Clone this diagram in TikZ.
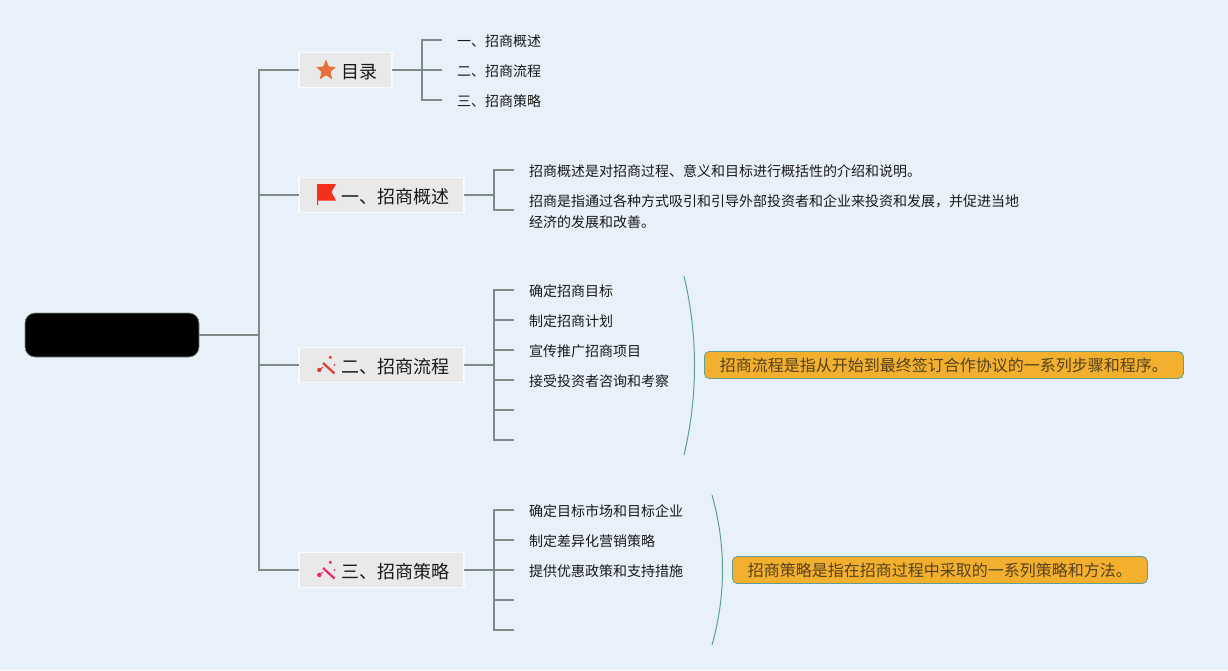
\documentclass[tikz,border=0pt]{standalone}
\usepackage{fontspec}
\setmainfont{Noto Sans CJK SC}
\usetikzlibrary{positioning}
\definecolor{paper}{RGB}{232,241,250}
\definecolor{branch}{RGB}{127,139,136}
\definecolor{chip}{RGB}{233,233,233}
\definecolor{ink}{RGB}{25,25,25}
\definecolor{sea}{RGB}{95,158,150}
\definecolor{gold}{RGB}{242,176,46}
\definecolor{umber}{RGB}{85,65,30}
\definecolor{orange}{RGB}{232,112,58}
\definecolor{scarlet}{RGB}{245,48,26}
\definecolor{brick}{RGB}{217,64,47}
\definecolor{rose}{RGB}{232,40,106}
\tikzset{
  x=1pt,y=-1pt,
  rootbox/.style={fill=black,draw=branch,line width=0.6pt,rounded corners=10pt,minimum width=174pt,minimum height=44pt,inner sep=0pt},
  chapter/.style={fill=chip,draw=white!70!paper,line width=1.2pt,outer sep=0pt,minimum height=35pt,inner xsep=15pt,inner ysep=0pt,text=ink,font=\fontsize{18}{18}\selectfont},
  leaf/.style={anchor=west,inner xsep=15pt,inner ysep=0pt,align=left,text=ink,font=\fontsize{14}{21}\selectfont},
  note/.style={anchor=west,fill=gold,draw=sea,line width=0.8pt,rounded corners=5pt,minimum height=27pt,inner xsep=15.5pt,inner ysep=0pt,text=umber,font=\fontsize{16}{16}\selectfont},
  link/.style={draw=branch,line width=2pt},
  brace/.style={draw=sea,line width=1pt},
  % pictograms
  pics/staricon/.style={code={
    \fill[#1,rounded corners=0.8pt] (0,-10.5) -- (2.8,-3.4) -- (10,-3) -- (4.5,1.8) -- (6.3,9.4) -- (0,5.2) -- (-6.3,9.4) -- (-4.5,1.8) -- (-10,-3) -- (-2.8,-3.4) -- cycle;
  }},
  pics/flagicon/.style={code={
    \fill[#1] (-9,-11) -- (10,-11) -- (5.5,-3) -- (10,5.5) -- (-8,5.5) -- (-8,10) -- (-9,10) -- cycle;
  }},
  pics/wandicon/.style={code={
    \draw[#1,line width=2.2pt] (-3,-2) -- (8.5,8.5);
    \draw[#1,line width=1pt] (-7,5) -- (-3,2);
    \fill[#1] (-6.7,5) circle (2.2) (4.3,-7.7) circle (1.7) (8.7,0) circle (1);
  }},
}
\begin{document}
\begin{tikzpicture}
  \useasboundingbox (0,0) rectangle (1228,670);
  \fill[paper] (0,0) rectangle (1228,670);
  \node[rootbox] (root) at (112,335) {};
  \coordinate (trunk) at (259,335);
  \foreach \t/\y [count=\i] in {
    目录/70,
    一、招商概述/195,
    二、招商流程/365,
    三、招商策略/570}
  {
    \node[chapter,anchor=west] (m\i) at (299,\y) {\rule{0pt}{18pt}\hspace*{27pt}\t};
    \coordinate (j\i) at ([xshift=30pt]m\i.east);
    \draw[link] (trunk) |- (m\i.west);
    \draw[link] (m\i.east) -- (j\i);
  }
  \draw[link] (root.east) -- (trunk);
  \pic at ([xshift=27pt]m1.west) {staricon=orange};
  \pic at ([xshift=27pt]m2.west) {flagicon=scarlet};
  \pic at ([xshift=27pt]m3.west) {wandicon=brick};
  \pic at ([xshift=27pt]m4.west) {wandicon=rose};
  \foreach \p/\x/\y/\t [count=\i] in {
    1/442/40/一、招商概述,
    1/442/70/二、招商流程,
    1/442/100/三、招商策略,
    2/514/170/招商概述是对招商过程、意义和目标进行概括性的介绍和说明。,
    2/514/210/\rule{0pt}{16pt}招商是指通过各种方式吸引和引导外部投资者和企业来投资和发展，并促进当地\\经济的发展和改善。,
    3/514/290/确定招商目标,
    3/514/320/制定招商计划,
    3/514/350/宣传推广招商项目,
    3/514/380/接受投资者咨询和考察,
    4/514/510/确定目标市场和目标企业,
    4/514/540/制定差异化营销策略,
    4/514/570/提供优惠政策和支持措施}
  {
    \node[leaf] (l\i) at (\x,\y) {\rule{0pt}{14.3pt}\t};
    \draw[link] (j\p) |- (l\i.west);
  }
  \foreach \p/\y [count=\i] in {3/410,3/440,4/600,4/630}
  {
    \coordinate (e\i) at (514,\y);
    \draw[link] (j\p) |- (e\i);
  }
  \coordinate (b1a) at (684,276);
  \coordinate (b1b) at (684,455);
  \coordinate (b2a) at (712,495);
  \coordinate (b2b) at (712,645);
  \draw[brace] (b1a) .. controls (698,335) and (698,396) .. (b1b);
  \draw[brace] (b2a) .. controls (726,545) and (726,595) .. (b2b);
  \node[note] (s1) at (704,365) {招商流程是指从开始到最终签订合作协议的一系列步骤和程序。};
  \node[note] (s2) at (732,570) {招商策略是指在招商过程中采取的一系列策略和方法。};
\end{tikzpicture}
\end{document}
